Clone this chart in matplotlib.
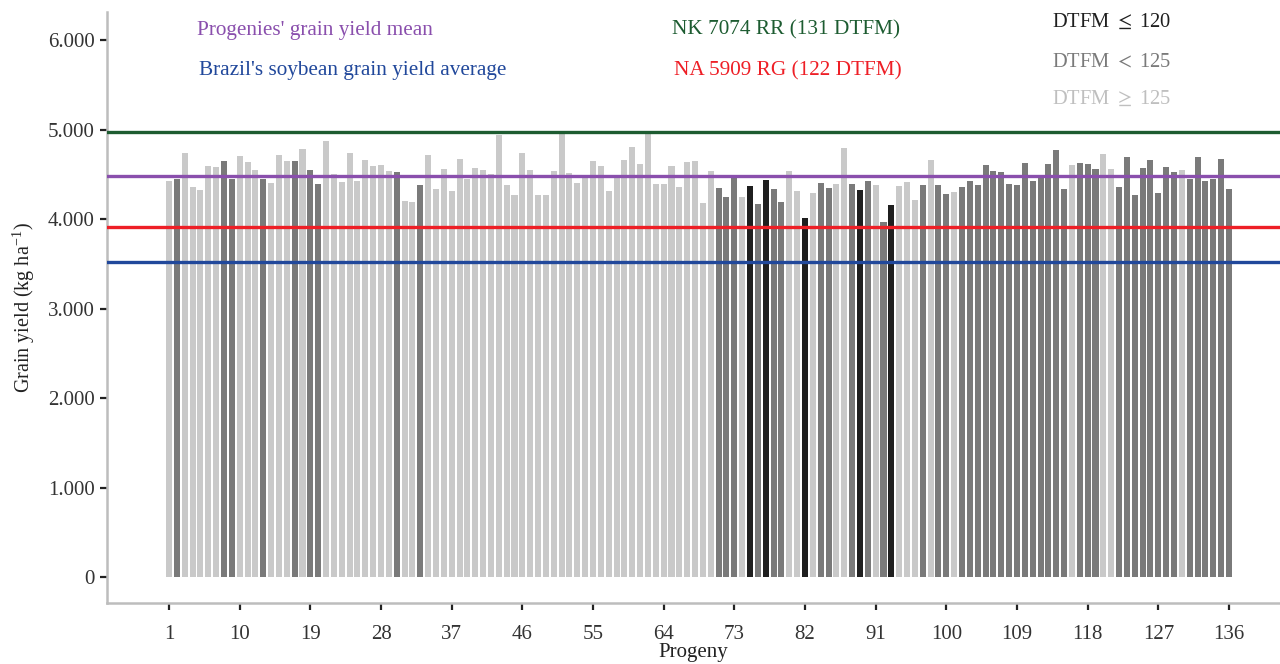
import matplotlib
matplotlib.use("Agg")
import matplotlib.pyplot as plt
import numpy as np

# ---- data ----
progeny = list(range(1, 137))
grain_yield = [
    4425, 4447, 4737, 4358, 4324, 4592, 4581, 4648, 4447, 4704,
    4637, 4548, 4447, 4402, 4715, 4648, 4648, 4782, 4548, 4391,
    4871, 4500, 4413, 4737, 4425, 4659, 4592, 4603, 4536, 4525,
    4201, 4190, 4380, 4715, 4335, 4559, 4313, 4670, 4447, 4570,
    4548, 4500, 4939, 4380, 4268, 4737, 4548, 4268, 4268, 4536,
    4950, 4514, 4402, 4469, 4648, 4592, 4313, 4480, 4659, 4804,
    4614, 4950, 4391, 4391, 4592, 4358, 4637, 4648, 4179, 4536,
    4346, 4246, 4469, 4246, 4369, 4168, 4436, 4335, 4190, 4536,
    4313, 4011, 4291, 4402, 4346, 4391, 4793, 4391, 4324, 4425,
    4380, 3966, 4157, 4369, 4413, 4212, 4380, 4659, 4380, 4279,
    4302, 4358, 4425, 4380, 4603, 4536, 4525, 4391, 4380, 4626,
    4425, 4469, 4614, 4771, 4335, 4603, 4626, 4614, 4559, 4726,
    4559, 4358, 4693, 4268, 4570, 4659, 4291, 4581, 4525, 4548,
    4447, 4693, 4425, 4447, 4670, 4335,
]
# DTFM class: B = DTFM <= 120, D = DTFM < 125, L = DTFM >= 125
dtfm_class = list(
    "LDLLLLLDDL" "LLDLLLDLDD" "LLLLLLLLLD" "LLDLLLLLLL"
    "LLLLLLLLLL" "LLLLLLLLLL" "LLLLLLLLLL" "DDDLBDBDDL"
    "LBLDDLLDBD" "LDBLLLDLDD" "LDDDDDDDDD" "DDDDDLDDDL"
    "LDDDDDDDDL" "DDDDDD"
)
ref_lines = {
    "NK 7074 RR (131 DTFM)": 4970,
    "Progenies' grain yield mean": 4485,
    "NA 5909 RG (122 DTFM)": 3910,
    "Brazil's soybean grain yield average": 3520,
}
x_ticks = [1, 10, 19, 28, 37, 46, 55, 64, 73, 82, 91, 100, 109, 118, 127, 136]
y_ticks = [0, 1000, 2000, 3000, 4000, 5000, 6000]
y_tick_labels = ["0", "1.000", "2.000", "3.000", "4.000", "5.000", "6.000"]

# ---- styles ----
class_colors = {"B": "#1f1f1f", "D": "#7a7a7a", "L": "#c9c9c9"}
line_colors = {
    "NK 7074 RR (131 DTFM)": "#1d5c31",
    "Progenies' grain yield mean": "#8a4fad",
    "NA 5909 RG (122 DTFM)": "#ee1f26",
    "Brazil's soybean grain yield average": "#21489b",
}

plt.rcParams["font.family"] = ["Liberation Serif", "DejaVu Serif"]
plt.rcParams["mathtext.fontset"] = "stix"

W, H = 1280, 664
fig = plt.figure(figsize=(W / 100, H / 100), dpi=100)
ax = fig.add_axes([107 / W, (H - 603) / H, (W - 107) / W, (603 - 12) / H])

colors = [class_colors[c] for c in dtfm_class]
ax.bar(progeny, grain_yield, width=0.77, color=colors, zorder=2)

for name, val in ref_lines.items():
    ax.axhline(val, color=line_colors[name], lw=2.4, zorder=3)

ax.set_xlim(-6.9, 142.5)
ax.set_ylim(-290, 6313)
ax.set_xticks(x_ticks)
ax.set_xticklabels([str(t) for t in x_ticks])
ax.set_yticks(y_ticks)
ax.set_yticklabels(y_tick_labels)
ax.tick_params(axis="both", direction="out", length=5, width=1.6,
               color="#222222", labelsize=15, labelcolor="#333333")
ax.tick_params(axis="x", pad=11)
ax.tick_params(axis="y", pad=4)

for s in ["top", "right"]:
    ax.spines[s].set_visible(False)
for s in ["left", "bottom"]:
    ax.spines[s].set_color("#bdbdbd")
    ax.spines[s].set_linewidth(1.8)

ax.set_xlabel("Progeny", fontsize=15, color="#222222", labelpad=-1)
ax.set_ylabel("Grain yield (kg ha$^{\\mathregular{-1}}$)", fontsize=14.5, color="#222222", labelpad=8)

def ftext(px, py, s, color, ha="left", size=15.3):
    fig.text(px / W, 1 - py / H, s, color=color, ha=ha, va="center", fontsize=size)

ftext(197, 30, "Progenies' grain yield mean", line_colors["Progenies' grain yield mean"])
ftext(199, 71, "Brazil's soybean grain yield average", line_colors["Brazil's soybean grain yield average"])
ftext(786, 30, "NK 7074 RR (131 DTFM)", line_colors["NK 7074 RR (131 DTFM)"], ha="center")
ftext(788, 71, "NA 5909 RG (122 DTFM)", line_colors["NA 5909 RG (122 DTFM)"], ha="center")
ftext(1052, 22, "DTFM $\\leq$ 120", class_colors["B"], size=14.8)
ftext(1052, 63, "DTFM $<$ 125", class_colors["D"], size=14.8)
ftext(1052, 99, "DTFM $\\geq$ 125", "#bfbfbf", size=14.8)

fig.savefig("out.png", dpi=100)
